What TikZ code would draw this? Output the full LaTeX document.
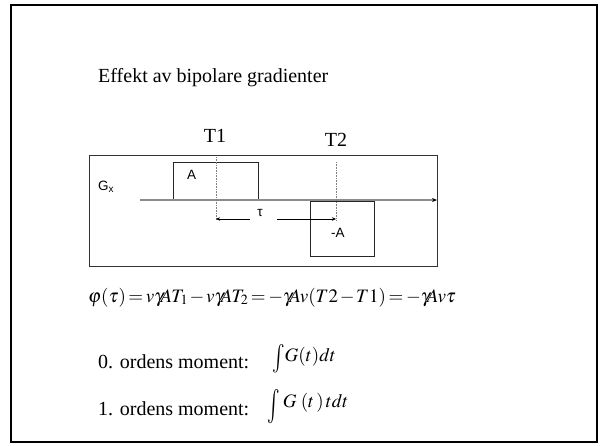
\documentclass[tikz,border=0pt]{standalone}
\usepackage{mathptmx}
\usepackage{fontspec}
\setmainfont{Liberation Serif}
\newfontfamily\arialfont{Liberation Sans}
\usetikzlibrary{positioning,arrows.meta}
\newcommand{\tallint}[2]{\raisebox{#1}{\scalebox{1.1}[#2]{$\int$}}}

\begin{document}
\begin{tikzpicture}[
  x=1pt, y=-1pt,
  >={Stealth[length=4pt,width=3.5pt]},
  serlabel/.style={inner sep=0pt, font=\fontsize{20}{24}\selectfont},
  sanslabel/.style={inner sep=0pt, font=\arialfont\fontsize{13.5}{15}\selectfont},
  slideframe/.style={draw=black, line width=2pt},
  plotframe/.style={draw=black!80, line width=0.9pt},
  pulse/.style={draw=black!85, line width=0.8pt},
  timeaxis/.style={-{Stealth[length=5pt,width=4pt,color=black]}, draw=black!45, line width=1.4pt},
  marker/.style={draw=black!50, densely dotted, line width=0.6pt},
  spanarrow/.style={->, draw=black, line width=0.6pt}
]
  \useasboundingbox (0,0) rectangle (600,445);
  \draw[slideframe] (11,5) rectangle (597,442);

  \node[serlabel, anchor=base west] (title) at (98,82) {Effekt av bipolare gradienter};

  % gradient plot
  \draw[plotframe] (89,155) rectangle (437,266);
  \draw[pulse] (173,162) rectangle (258,200);
  \draw[pulse] (310,201) rectangle (374,256);
  \coordinate (axstart) at (140,200);
  \coordinate (axend) at (437,200);
  \draw[timeaxis] (axstart) -- (axend);

  \coordinate (t1top) at (216,157);
  \coordinate (t1bot) at (216,220);
  \coordinate (t2top) at (336,162);
  \coordinate (t2bot) at (336,220);
  \draw[marker] (t1top) -- (t1bot);
  \draw[marker] (t2top) -- (t2bot);

  \node[serlabel, anchor=base] (t1lab) at (215,142) {T1};
  \node[serlabel, anchor=base] (t2lab) at (336,146) {T2};

  \node[sanslabel, anchor=base west] (gx) at (98,190) {G\textsubscript{x}};
  \node[sanslabel, anchor=base west] (labA) at (187,179) {A};
  \node[sanslabel, anchor=base west] (labnegA) at (331,237) {-A};
  \node[sanslabel] (taulab) at (260,213) {τ};

  \coordinate (tauL) at (216,219);
  \coordinate (tauR) at (336,219);
  \draw[spanarrow] (250,219) -- (tauL);
  \draw[spanarrow] (277,219) -- (tauR);

  % phase and moments
  \node[serlabel, anchor=base west, font=\fontsize{19}{23}\selectfont] (formula) at (88,302)
    {$\thickmuskip=2.5mu \medmuskip=1.5mu
      \varphi(\tau) = v\gamma\mkern-3mu AT_{1} - v\gamma\mkern-3mu AT_{2} = -\gamma\mkern-3mu Av(T2-T1) = -\gamma\mkern-3mu Av\tau$};

  \node[serlabel, anchor=base west] (mom0) at (98,368) {0. ordens moment:};
  \node[serlabel, anchor=base west, font=\fontsize{19}{23}\selectfont] (int0) at (272,361) {\tallint{-5pt}{1.5}$G(t)dt$};
  \node[serlabel, anchor=base west] (mom1) at (98,415) {1. ordens moment:};
  \node[serlabel, anchor=base west, font=\fontsize{19}{23}\selectfont] (int1) at (267,407) {\tallint{-8pt}{1.8}\,$G\;(t\,)\,tdt$};
\end{tikzpicture}
\end{document}
